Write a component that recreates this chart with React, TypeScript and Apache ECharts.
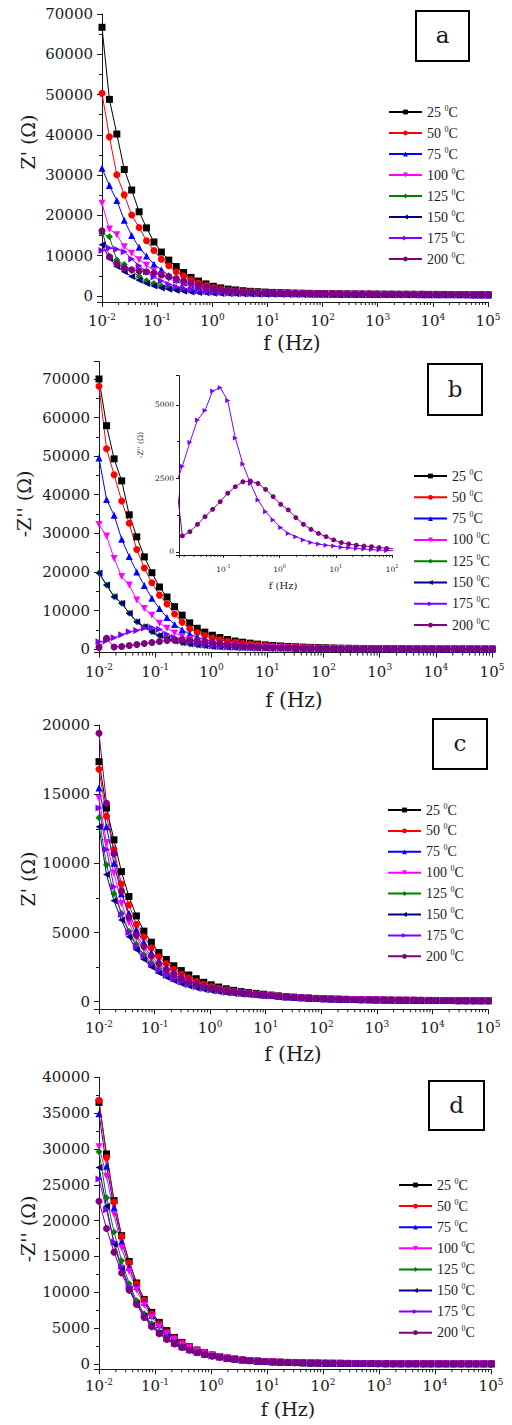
import React, { useEffect, useRef } from 'react';
import * as echarts from 'echarts';

// ---------- data ----------
const FREQ = [
  0.01, 0.01363, 0.01858, 0.02533, 0.03455, 0.04709, 0.0642, 0.08754, 0.1194, 0.1627,
  0.2219, 0.3025, 0.4125, 0.5623, 0.7667, 1.045, 1.425, 1.943, 2.649, 3.612,
  4.924, 6.714, 9.154, 12.48, 17.01, 23.2, 31.62, 43.12, 58.79, 80.15,
  109.3, 149, 203.1, 276.9, 377.6, 514.8, 701.9, 957, 1305, 1778,
  2425, 3306, 4507, 6145, 8377, 11420, 15570, 21230, 28950, 39470,
  53810, 73370, 100000,
];

const TEMPS = ['25 °C', '50 °C', '75 °C', '100 °C', '125 °C', '150 °C', '175 °C', '200 °C'];

// Panel a : Z' (Ω)
const A25 = [66700, 48800, 40200, 31400, 26300, 20900, 16900, 13400, 10900, 8900,
  7300, 5800, 4600, 3700, 3000, 2400, 2000, 1700, 1500, 1300,
  1150, 1050, 960, 880, 820, 770, 720, 680, 650, 620,
  590, 570, 550, 530, 510, 490, 480, 470, 460, 450,
  440, 430, 420, 410, 400, 390, 380, 370, 360, 350,
  340, 330, 320];
const A50 = [50300, 39500, 30100, 25100, 20100, 17000, 13700, 11300, 9100, 7500,
  6000, 5000, 4000, 3200, 2600, 2100, 1750, 1500, 1300, 1150,
  1020, 930, 860, 800, 750, 700, 660, 630, 600, 575,
  550, 530, 510, 495, 480, 465, 455, 445, 435, 425,
  415, 405, 395, 385, 375, 365, 355, 345, 335, 325,
  315, 305, 295];
const A75 = [31700, 27400, 23700, 18800, 15000, 12100, 9900, 7900, 6500, 5100,
  4100, 3300, 2650, 2150, 1750, 1450, 1250, 1100, 980, 880,
  800, 740, 690, 650, 610, 580, 550, 530, 510, 490,
  470, 455, 440, 430, 420, 410, 400, 390, 380, 370,
  360, 350, 340, 330, 320, 310, 300, 290, 280, 270,
  260, 250, 240];
const A100 = [23000, 16600, 15200, 12200, 10600, 9000, 7600, 6300, 5200, 4300,
  3500, 2900, 2400, 2000, 1700, 1450, 1250, 1100, 980, 880,
  800, 740, 690, 650, 610, 580, 550, 530, 510, 490,
  470, 455, 440, 430, 420, 410, 400, 390, 380, 370,
  360, 350, 340, 330, 320, 310, 300, 290, 280, 270,
  260, 250, 240];
const A125 = [15500, 14700, 8900, 7800, 6300, 4800, 3800, 3100, 2500, 2050,
  1700, 1450, 1250, 1100, 980, 880, 800, 740, 690, 650,
  610, 580, 550, 530, 510, 490, 475, 460, 450, 440,
  430, 420, 410, 400, 390, 380, 370, 360, 350, 340,
  330, 320, 310, 300, 290, 280, 270, 260, 250, 240,
  230, 220, 210];
const A150 = [12700, 9300, 7300, 6000, 4800, 3900, 3100, 2500, 2000, 1650,
  1350, 1150, 1000, 880, 780, 700, 640, 590, 550, 510,
  480, 455, 430, 410, 395, 380, 365, 355, 345, 335,
  325, 315, 305, 300, 295, 290, 285, 280, 275, 270,
  265, 260, 255, 250, 245, 240, 235, 230, 225, 220,
  215, 210, 205];
const A175 = [11300, 11900, 11600, 11000, 9200, 7500, 6000, 4700, 3700, 2900,
  2300, 1850, 1500, 1250, 1050, 900, 790, 700, 630, 570,
  520, 480, 450, 420, 400, 380, 360, 345, 335, 325,
  315, 305, 295, 290, 285, 280, 275, 270, 265, 260,
  255, 250, 245, 240, 235, 230, 225, 220, 215, 210,
  205, 200, 195];
const A200 = [16200, 9700, 8000, 7000, 6500, 6200, 6000, 5700, 5200, 4800,
  4300, 3700, 3200, 2600, 2100, 1800, 1550, 1350, 1200, 1080,
  980, 900, 840, 790, 740, 700, 665, 635, 610, 585,
  560, 540, 520, 505, 490, 475, 460, 450, 440, 430,
  420, 410, 400, 390, 380, 370, 360, 350, 340, 330,
  320, 310, 300];

// Panel b : -Z'' (Ω)
const B25 = [70000, 57900, 49300, 43600, 34800, 29100, 23900, 19800, 16100, 13500,
  11000, 8800, 6800, 5400, 4400, 3600, 3000, 2500, 2100, 1800,
  1550, 1300, 1100, 950, 820, 710, 610, 530, 460, 400,
  350, 300, 260, 230, 200, 175, 155, 135, 120, 105,
  95, 85, 75, 68, 60, 54, 48, 43, 38, 34,
  30, 27, 24];
const B50 = [68100, 51900, 45200, 38400, 32600, 25800, 21000, 17200, 14000, 11700,
  9100, 7000, 5300, 4300, 3500, 2900, 2400, 2050, 1750, 1500,
  1300, 1100, 950, 820, 710, 610, 530, 460, 400, 350,
  300, 260, 225, 195, 170, 150, 130, 115, 100, 90,
  80, 72, 65, 58, 52, 46, 41, 37, 33, 29,
  26, 23, 21];
const B75 = [49500, 38800, 34700, 28500, 24000, 20000, 16500, 13200, 10500, 8200,
  6400, 5000, 3900, 3050, 2450, 1980, 1620, 1360, 1150, 980,
  840, 720, 620, 540, 470, 410, 355, 310, 270, 235,
  205, 180, 158, 140, 124, 110, 98, 87, 78, 70,
  63, 57, 51, 46, 42, 38, 34, 31, 28, 25,
  23, 21, 19];
const B100 = [32300, 29300, 23500, 18800, 16600, 12700, 10500, 8800, 6700, 5400,
  4200, 3300, 2600, 2100, 1700, 1400, 1180, 1000, 860, 740,
  640, 555, 480, 420, 365, 320, 280, 245, 215, 190,
  168, 148, 131, 116, 103, 92, 82, 73, 65, 58,
  52, 47, 42, 38, 34, 31, 28, 25, 23, 21,
  19, 17, 15];
const B125 = [19700, 16600, 13600, 11900, 9300, 7100, 5800, 4500, 3500, 2700,
  2100, 1650, 1300, 1050, 850, 700, 580, 480, 400, 340,
  290, 250, 215, 185, 160, 140, 122, 107, 94, 83,
  73, 65, 58, 52, 46, 41, 37, 33, 30, 27,
  24, 22, 20, 18, 16, 15, 13, 12, 11, 10,
  9, 8, 7];
const B150 = [19700, 16600, 13600, 11900, 9300, 7100, 5800, 4500, 3500, 2700,
  2100, 1650, 1300, 1050, 850, 700, 580, 480, 400, 340,
  290, 250, 215, 185, 160, 140, 122, 107, 94, 83,
  73, 65, 58, 52, 46, 41, 37, 33, 30, 27,
  24, 22, 20, 18, 16, 15, 13, 12, 11, 10,
  9, 8, 7];
const B175 = [1900, 2200, 2920, 3730, 4490, 4810, 5480, 5590, 5150, 3880,
  2990, 2330, 1770, 1370, 1090, 830, 630, 520, 410, 320,
  270, 230, 200, 160, 140, 120, 100, 80, 65, 50,
  45, 40, 36, 32, 29, 26, 24, 22, 20, 18,
  16, 15, 14, 13, 12, 11, 10, 9, 8, 7,
  7, 6, 6];
const B200 = [450, 2800, 545, 690, 940, 1200, 1450, 1710, 2000, 2220,
  2390, 2410, 2330, 2130, 1880, 1620, 1430, 1170, 940, 770,
  630, 520, 410, 320, 270, 230, 200, 180, 150, 120,
  110, 100, 90, 80, 72, 65, 58, 52, 47, 42,
  38, 34, 31, 28, 25, 23, 21, 19, 17, 16,
  15, 14, 13];

// Panel c : Z' (Ω)
const C25 = [17350, 14000, 11700, 9400, 7600, 6200, 5100, 4300, 3550, 3050,
  2600, 2250, 1930, 1660, 1400, 1220, 1060, 930, 820, 730,
  660, 600, 540, 480, 420, 370, 330, 295, 265, 240,
  220, 200, 185, 170, 160, 150, 140, 132, 125, 118,
  112, 107, 102, 98, 94, 90, 87, 84, 81, 78,
  75, 72, 70];
const C50 = [16800, 13400, 11000, 8500, 7000, 5600, 4700, 3900, 3250, 2750,
  2350, 2000, 1720, 1480, 1270, 1100, 960, 850, 750, 670,
  610, 555, 500, 450, 400, 355, 318, 285, 258, 234,
  214, 196, 181, 167, 156, 146, 137, 129, 122, 116,
  110, 105, 100, 96, 92, 88, 85, 82, 79, 76,
  73, 70, 68];
const C75 = [15450, 12650, 10000, 7800, 6400, 5200, 4300, 3550, 2950, 2500,
  2130, 1830, 1570, 1360, 1180, 1030, 900, 800, 715, 645,
  590, 540, 490, 440, 392, 348, 312, 280, 253, 230,
  210, 193, 178, 165, 154, 144, 135, 127, 120, 114,
  108, 103, 98, 94, 90, 86, 83, 80, 77, 74,
  71, 69, 67];
const C100 = [14700, 11500, 9300, 7100, 5700, 4600, 3800, 3100, 2600, 2200,
  1900, 1640, 1420, 1240, 1090, 960, 850, 760, 685, 620,
  565, 515, 470, 425, 380, 338, 303, 272, 246, 224,
  204, 188, 174, 161, 150, 140, 132, 124, 117, 111,
  106, 101, 96, 92, 88, 85, 82, 79, 76, 73,
  70, 68, 66];
const C125 = [13300, 9900, 7800, 6400, 5100, 4150, 3400, 2800, 2350, 2000,
  1720, 1480, 1280, 1120, 990, 880, 785, 705, 640, 585,
  535, 490, 448, 406, 365, 326, 293, 264, 239, 218,
  199, 183, 169, 157, 146, 137, 129, 121, 115, 109,
  104, 99, 94, 90, 86, 83, 80, 77, 74, 71,
  69, 67, 65];
const C150 = [12650, 9200, 7300, 5900, 4700, 3750, 3050, 2500, 2080, 1760,
  1510, 1300, 1130, 995, 885, 790, 710, 645, 590, 540,
  498, 460, 422, 385, 348, 312, 281, 254, 231, 211,
  193, 178, 165, 153, 143, 134, 126, 119, 113, 107,
  102, 97, 93, 89, 85, 82, 79, 76, 73, 70,
  68, 66, 64];
const C175 = [14000, 11000, 8300, 6300, 5000, 4000, 3300, 2700, 2250, 1900,
  1640, 1420, 1230, 1080, 955, 850, 765, 690, 630, 578,
  530, 487, 446, 405, 364, 326, 293, 264, 239, 218,
  199, 183, 169, 157, 146, 137, 129, 121, 115, 109,
  104, 99, 94, 90, 86, 83, 80, 77, 74, 71,
  69, 67, 65];
const C200 = [19400, 14350, 10700, 8000, 6100, 4800, 4000, 3300, 2750, 2300,
  1960, 1690, 1460, 1270, 1110, 980, 870, 780, 705, 640,
  585, 535, 488, 442, 396, 352, 315, 283, 256, 233,
  213, 196, 181, 168, 156, 146, 137, 129, 122, 116,
  110, 105, 100, 96, 92, 88, 85, 82, 79, 76,
  73, 70, 68];

// Panel d : -Z'' (Ω)
const D25 = [36500, 29300, 22800, 17900, 14300, 11300, 9000, 7200, 5800, 4650,
  3700, 3000, 2400, 1950, 1600, 1250, 1020, 820, 680, 560,
  470, 400, 340, 290, 250, 215, 185, 160, 140, 122,
  106, 93, 82, 72, 64, 57, 51, 46, 41, 37,
  33, 30, 27, 24, 22, 20, 18, 16, 15, 14,
  13, 12, 11];
const D50 = [36800, 28800, 22600, 17800, 14100, 11200, 8900, 7000, 5600, 4500,
  3650, 2950, 2400, 1950, 1580, 1280, 1040, 850, 700, 580,
  480, 405, 345, 295, 252, 217, 187, 162, 141, 123,
  107, 94, 83, 73, 65, 58, 52, 46, 41, 37,
  33, 30, 27, 24, 22, 20, 18, 16, 15, 14,
  13, 12, 11];
const D75 = [34900, 27600, 21800, 17100, 13500, 10800, 8600, 6800, 5450, 4400,
  3550, 2900, 2350, 1900, 1550, 1260, 1030, 840, 690, 570,
  475, 400, 340, 290, 248, 213, 184, 159, 138, 120,
  105, 92, 81, 71, 63, 56, 50, 45, 40, 36,
  32, 29, 26, 24, 22, 20, 18, 16, 15, 14,
  13, 12, 11];
const D100 = [30300, 26200, 20900, 16200, 12900, 10300, 8200, 6500, 5200, 4200,
  3400, 2750, 2250, 1850, 1510, 1230, 1010, 830, 680, 565,
  470, 395, 335, 285, 244, 210, 181, 157, 136, 118,
  103, 90, 79, 70, 62, 55, 49, 44, 39, 35,
  32, 29, 26, 23, 21, 19, 17, 16, 15, 14,
  13, 12, 11];
const D125 = [29600, 23200, 18400, 14400, 11200, 8800, 7000, 5600, 4500, 3650,
  2950, 2400, 1960, 1610, 1330, 1100, 910, 760, 630, 525,
  440, 372, 316, 270, 231, 199, 172, 149, 129, 112,
  98, 86, 76, 67, 59, 53, 47, 42, 38, 34,
  31, 28, 25, 23, 21, 19, 17, 16, 15, 14,
  13, 12, 11];
const D150 = [27400, 22000, 16700, 13300, 10500, 8400, 6700, 5350, 4300, 3480,
  2830, 2300, 1880, 1550, 1280, 1060, 880, 735, 615, 515,
  433, 366, 311, 265, 227, 195, 168, 146, 127, 110,
  96, 84, 74, 65, 58, 52, 46, 41, 37, 33,
  30, 27, 24, 22, 20, 18, 17, 16, 15, 14,
  13, 12, 11];
const D175 = [25800, 21500, 17000, 13600, 10800, 8500, 6800, 5400, 4350, 3500,
  2850, 2320, 1900, 1560, 1290, 1070, 890, 745, 625, 525,
  442, 374, 318, 271, 232, 200, 173, 150, 130, 113,
  99, 87, 76, 67, 60, 53, 48, 43, 38, 34,
  31, 28, 25, 23, 21, 19, 17, 16, 15, 14,
  13, 12, 11];
const D200 = [22700, 18900, 15600, 12700, 10300, 8300, 6500, 5200, 4200, 3400,
  2800, 2300, 1900, 1560, 1300, 1080, 900, 760, 640, 540,
  455, 385, 327, 279, 239, 206, 178, 154, 134, 117,
  102, 89, 78, 69, 61, 54, 48, 43, 39, 35,
  31, 28, 25, 23, 21, 19, 17, 16, 15, 14,
  13, 12, 11];

const PANEL_A = [A25, A50, A75, A100, A125, A150, A175, A200];
const PANEL_B = [B25, B50, B75, B100, B125, B150, B175, B200];
const PANEL_C = [C25, C50, C75, C100, C125, C150, C175, C200];
const PANEL_D = [D25, D50, D75, D100, D125, D150, D175, D200];

const Y_TITLES = ["Z' (Ω)", "-Z'' (Ω)", "Z' (Ω)", "-Z'' (Ω)"];
const PANEL_LETTERS = ['a', 'b', 'c', 'd'];
const X_TITLE = 'f (Hz)';

// ---------- styles ----------
const COLORS = ['#000000', '#ff0000', '#0000ff', '#ff00ff', '#008000', '#000080', '#8000ff', '#800080'];
const SYMBOLS = ['rect', 'circle', 'triangle', 'triangle', 'diamond', 'triangle', 'triangle', 'circle'];
const ROTATE = [0, 0, 0, 180, 0, 90, -90, 0];
const FONT = 'DejaVu Serif';
const LFONT = 'Liberation Serif';
const INK = '#1a1a1a';

function logFmt(v: number) {
  const e = Math.log10(v);
  const r = Math.round(e);
  if (Math.abs(e - r) > 0.01) return '';
  return '{b|10}{s|' + r + '}';
}

function xAxisOpt(gi: number, min: number, max: number, fs: number, sfs: number, margin: number, split: number, tick: number) {
  return {
    type: 'log', logBase: 10, gridIndex: gi, min, max, splitNumber: split,
    axisLine: { show: true, onZero: false, lineStyle: { color: INK, width: 1 } },
    axisTick: { show: true, inside: false, length: tick, lineStyle: { color: INK, width: 1 } },
    minorTick: { show: false },
    splitLine: { show: false },
    axisLabel: {
      margin, formatter: logFmt, showMinLabel: true, showMaxLabel: true,
      rich: {
        b: { fontFamily: FONT, fontSize: fs, lineHeight: fs + 3, color: INK },
        s: { fontFamily: FONT, fontSize: sfs, lineHeight: sfs + 1, verticalAlign: 'top', color: INK },
      },
    },
  };
}

function yAxisOpt(gi: number, min: number, max: number, step: number, fs: number, margin: number, tick: number) {
  return {
    type: 'value', gridIndex: gi, min, max, minInterval: step, maxInterval: step,
    axisLine: { show: true, onZero: false, lineStyle: { color: INK, width: 1 } },
    axisTick: { show: true, inside: false, length: tick, lineStyle: { color: INK, width: 1 } },
    minorTick: { show: true, splitNumber: 2, length: Math.max(2, tick * 0.6), lineStyle: { color: INK, width: 1 } },
    splitLine: { show: false },
    minorSplitLine: { show: false },
    axisLabel: {
      margin, fontFamily: FONT, fontSize: fs, color: INK,
      formatter: (v: number) => (Math.abs(v % step) < 1e-6 ? String(v) : ''),
    },
  };
}

function lineSeries(vals: number[], k: number, gi: number, size: number) {
  return {
    type: 'line', name: TEMPS[k], xAxisIndex: gi, yAxisIndex: gi,
    data: FREQ.map((f, i) => [f, vals[i]]),
    symbol: SYMBOLS[k], symbolRotate: ROTATE[k], symbolSize: size,
    showSymbol: true, showAllSymbol: true, clip: true,
    lineStyle: { color: COLORS[k], width: 1 },
    itemStyle: { color: COLORS[k] },
    emphasis: { disabled: true },
    z: 3,
  };
}

function minorTicks(gi: number, fmin: number, fmax: number, yMin: number, len: number) {
  const data: number[][] = [];
  for (let n = -3; n < 5; n++) {
    for (let k = 2; k < 10; k++) {
      const f = k * Math.pow(10, n);
      if (f > fmin * 1.001 && f < fmax * 0.999) data.push([f, yMin]);
    }
  }
  return {
    type: 'custom', xAxisIndex: gi, yAxisIndex: gi, data, clip: false, silent: true, z: 2,
    renderItem: (_p: any, api: any) => {
      const pt = api.coord([api.value(0), api.value(1)]);
      return { type: 'line', shape: { x1: pt[0], y1: pt[1], x2: pt[0], y2: pt[1] + len }, style: { stroke: INK, lineWidth: 1 } };
    },
  };
}

function legendOpt(left: number, top: number, gap: number) {
  return {
    left, top, orient: 'vertical', padding: 0, itemGap: gap, itemWidth: 33, itemHeight: 6,
    selectedMode: false, data: TEMPS,
    formatter: (name: string) => '{n|' + name.split(' ')[0] + ' }{s|0}{n|C}',
    textStyle: {
      fontFamily: LFONT, fontSize: 14, color: INK,
      rich: {
        n: { fontFamily: LFONT, fontSize: 14, lineHeight: 16, color: INK },
        s: { fontFamily: LFONT, fontSize: 8, lineHeight: 9, verticalAlign: 'top', color: INK },
      },
    },
  };
}

function txt(x: number, y: number, text: string, size: number, rot = 0) {
  return {
    type: 'text', x, y, rotation: rot, silent: true,
    style: { text, fontFamily: FONT, fontSize: size, fill: INK, align: 'center', verticalAlign: 'middle', textAlign: 'center', textVerticalAlign: 'middle' },
  };
}

function box(x: number, y: number, w: number, h: number, letter: string) {
  return [
    { type: 'rect', shape: { x, y, width: w, height: h }, style: { fill: 'none', stroke: '#000', lineWidth: 2 }, silent: true },
    txt(x + w / 2, y + h / 2 - 1, letter, 23),
  ];
}

export default function App() {
  const ref = useRef<HTMLDivElement>(null);
  useEffect(() => {
    document.body.style.margin = '0';
    if (!ref.current) return;
    const chart = echarts.init(ref.current, undefined, { renderer: 'svg' });

    const grids = [
      { left: 102, top: 14, width: 386, height: 288 },
      { left: 99, top: 361.6, width: 393, height: 291 },
      { left: 99, top: 725, width: 389, height: 284.3 },
      { left: 99, top: 1077.3, width: 392, height: 292 },
      { left: 179, top: 375.6, width: 213, height: 179.3 },
    ];

    const yMins = [-1500, -900, -550, -750, -100];
    const series: any[] = [];
    [PANEL_A, PANEL_B, PANEL_C, PANEL_D].forEach((panel, gi) => {
      panel.forEach((vals, k) => series.push(lineSeries(vals, k, gi, 7)));
      series.push(minorTicks(gi, 0.01, 100000, yMins[gi], 3));
    });
    series.push(lineSeries(B175, 6, 4, 5));
    series.push(lineSeries(B200, 7, 4, 5));
    series.push(minorTicks(4, 0.0162, 100, yMins[4], 2));

    const option: any = {
      animation: false,
      backgroundColor: '#ffffff',
      grid: grids.map((g) => ({ ...g, containLabel: false })),
      xAxis: [
        xAxisOpt(0, 0.01, 100000, 15, 9, 10, 7, 5),
        xAxisOpt(1, 0.01, 100000, 15, 9, 10, 7, 5),
        xAxisOpt(2, 0.01, 100000, 15, 9, 10, 7, 5),
        xAxisOpt(3, 0.01, 100000, 15, 9, 8, 7, 5),
        xAxisOpt(4, 0.0162, 100, 7.5, 5, 9, 4, 3),
      ],
      yAxis: [
        yAxisOpt(0, -1500, 70000, 10000, 15, 9, 5),
        yAxisOpt(1, -900, 74500, 10000, 15, 9, 5),
        yAxisOpt(2, -550, 20000, 5000, 15, 9, 5),
        yAxisOpt(3, -750, 40000, 5000, 15, 9, 5),
        yAxisOpt(4, -100, 6000, 2500, 7.5, 5, 3),
      ],
      legend: [
        legendOpt(388, 104, 6),
        legendOpt(413, 468, 6.3),
        legendOpt(387, 802, 5.9),
        legendOpt(398, 1177, 6.1),
      ],
      graphic: [
        ...box(416, 11, 53, 50, PANEL_LETTERS[0]),
        ...box(428, 364, 54, 51, PANEL_LETTERS[1]),
        ...box(433, 719, 54, 50, PANEL_LETTERS[2]),
        ...box(429, 1081, 55, 49, PANEL_LETTERS[3]),
        txt(27.5, 142, Y_TITLES[0], 19, Math.PI / 2),
        txt(24, 504, Y_TITLES[1], 19, Math.PI / 2),
        txt(27.5, 879, Y_TITLES[2], 19, Math.PI / 2),
        txt(27.5, 1229, Y_TITLES[3], 19, Math.PI / 2),
        txt(292, 343, X_TITLE, 20),
        txt(294, 700, X_TITLE, 20),
        txt(293, 1054, X_TITLE, 20),
        txt(288, 1409, X_TITLE, 19),
        txt(140, 445, Y_TITLES[1], 7.5, Math.PI / 2),
        txt(283, 585, X_TITLE, 10),
      ],
      series,
    };
    chart.setOption(option);
    return () => chart.dispose();
  }, []);
  return <div ref={ref} style={{ width: 512, height: 1425 }} />;
}
